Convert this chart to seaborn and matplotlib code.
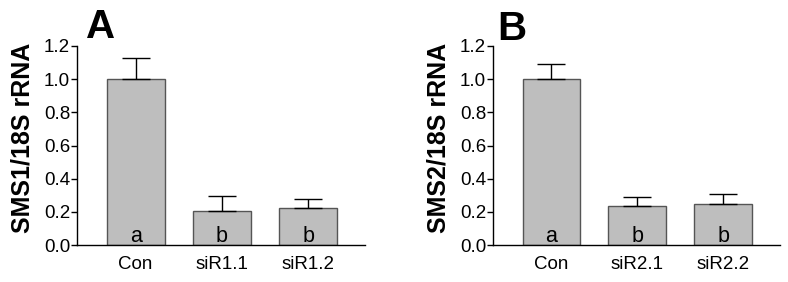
import numpy as np
import pandas as pd
import seaborn as sns
import matplotlib
matplotlib.use("Agg")
import matplotlib.pyplot as plt

# ===============================
# DATA
# ===============================
groups_a = ["Con", "siR1.1", "siR1.2"]
means_a = [1.00, 0.207, 0.225]
err_a = [0.128, 0.090, 0.050]
letters_a = ["a", "b", "b"]

groups_b = ["Con", "siR2.1", "siR2.2"]
means_b = [1.00, 0.237, 0.249]
err_b = [0.092, 0.050, 0.058]
letters_b = ["a", "b", "b"]

# ===============================
# STYLE
# ===============================
sns.set_style("ticks")
plt.rcParams["font.family"] = ["Liberation Sans", "DejaVu Sans"]
plt.rcParams["text.color"] = "black"
plt.rcParams["axes.labelcolor"] = "black"
plt.rcParams["xtick.color"] = "black"
plt.rcParams["ytick.color"] = "black"

BAR_COLOR = "#bebebe"
EDGE_COLOR = "#555555"

fig = plt.figure(figsize=(7.88, 2.82), dpi=100)
ax_a = fig.add_axes([0.0977, 0.131, 0.3655, 0.706])
ax_b = fig.add_axes([0.6256, 0.131, 0.364, 0.706])


def draw_panel(ax, groups, means, errs, letters, ylabel, panel, px, py):
    df = pd.DataFrame({"group": groups, "value": means})
    sns.barplot(data=df, x="group", y="value", color=BAR_COLOR,
                edgecolor=EDGE_COLOR, linewidth=1.0, width=0.67,
                errorbar=None, saturation=1, ax=ax)
    x = np.arange(len(groups))
    ax.errorbar(x, means, yerr=[np.zeros(len(errs)), errs], fmt="none",
                ecolor="black", elinewidth=1.0, capsize=10, capthick=1.0,
                zorder=1)
    for xi, lab in zip(x, letters):
        ax.text(xi, 0.018, lab, ha="center", va="baseline", fontsize=15.5,
                color="black")

    ax.set_ylim(0, 1.2)
    ax.set_xlim(-0.68, 2.66)
    ax.set_yticks(np.arange(0, 1.21, 0.2))
    ax.set_yticklabels([f"{v:.1f}" for v in np.arange(0, 1.21, 0.2)])
    ax.tick_params(axis="y", length=4, width=1, pad=1, labelsize=13.5)
    ax.tick_params(axis="x", length=0, pad=8, labelsize=13.5)
    ax.set_xlabel("")
    ax.set_ylabel(ylabel, fontsize=18, fontweight="bold")
    ax.yaxis.label.set_va("center")
    ax.yaxis.set_label_coords(-0.19, 0.54)
    for s in ["top", "right"]:
        ax.spines[s].set_visible(False)
    for s in ["left", "bottom"]:
        ax.spines[s].set_linewidth(1.0)
        ax.spines[s].set_color("black")
    ax.text(px, py, panel, transform=ax.transAxes, fontsize=29,
            fontweight="bold", ha="left", va="baseline", color="black")


draw_panel(ax_a, groups_a, means_a, err_a, letters_a, "SMS1/18S rRNA", "A", 0.031, 1.04)
draw_panel(ax_b, groups_b, means_b, err_b, letters_b, "SMS2/18S rRNA", "B", 0.014, 1.03)

fig.savefig("out.png", dpi=100)
